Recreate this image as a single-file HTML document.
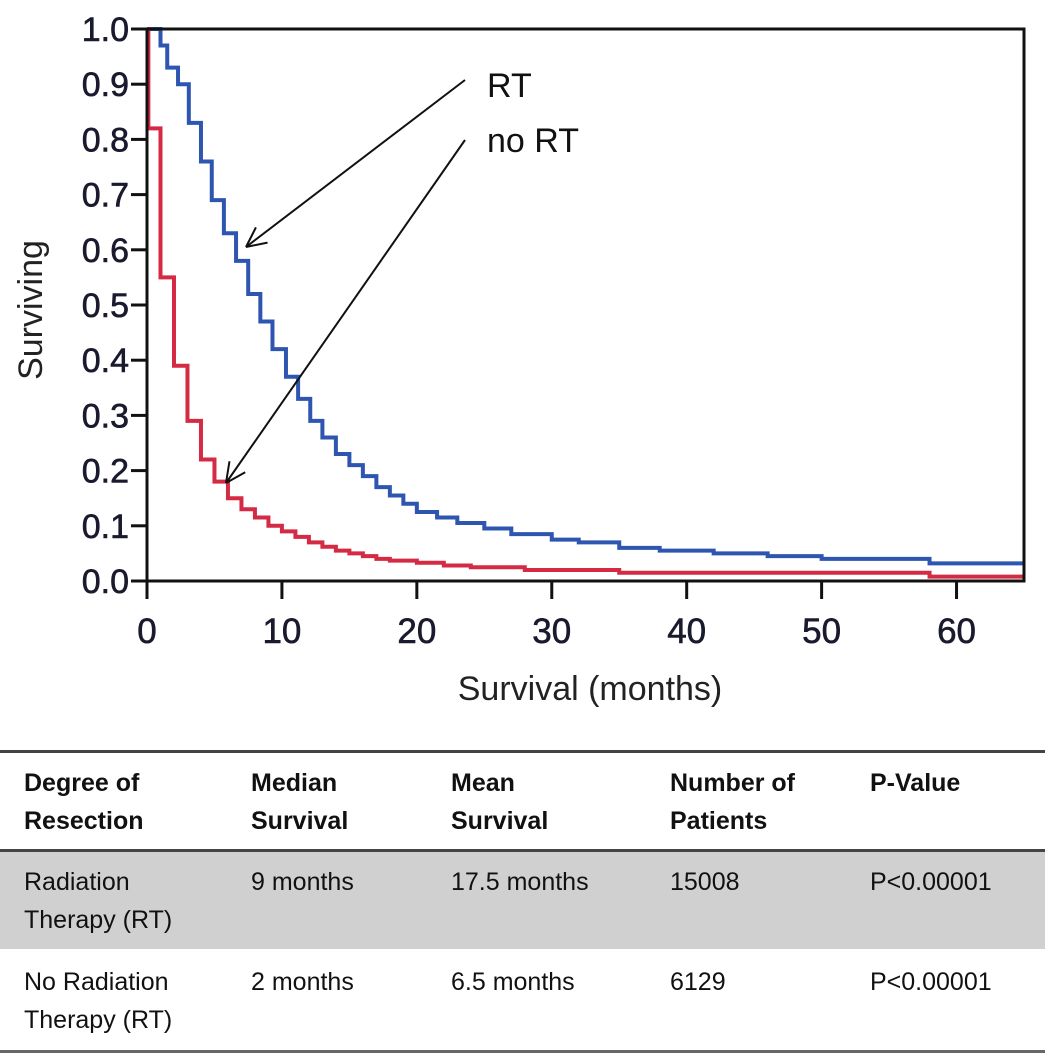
<!DOCTYPE html>
<html><head><meta charset="utf-8"><style>
body{margin:0;background:#fff;width:1063px;height:1056px;overflow:hidden;position:relative;font-family:"Liberation Sans",sans-serif}
.tb{position:absolute;font-family:"Liberation Sans Narrow","Liberation Sans",sans-serif;font-size:25px;line-height:38px;color:#111}
.h{font-weight:bold}
.ln{position:absolute;left:0;width:1045px;height:3px;background:#444}
</style></head><body>
<svg width="1063" height="740" style="position:absolute;left:0;top:0">
<g id="g"></g>
</svg>
<div style="position:absolute;left:0;top:852px;width:1045px;height:97px;background:#d0d0d0"></div>
<div class="ln" style="top:750px"></div>
<div class="ln" style="top:849px"></div>
<div class="ln" style="top:1050px;background:#666"></div>
<div class="tb h" style="left:24px;top:764px">Degree of<br>Resection</div>
<div class="tb h" style="left:251px;top:764px">Median<br>Survival</div>
<div class="tb h" style="left:451px;top:764px">Mean<br>Survival</div>
<div class="tb h" style="left:670px;top:764px">Number of<br>Patients</div>
<div class="tb h" style="left:870px;top:764px">P-Value</div>
<div class="tb" style="left:24px;top:863px">Radiation<br>Therapy (RT)</div>
<div class="tb" style="left:251px;top:863px">9 months</div>
<div class="tb" style="left:451px;top:863px">17.5 months</div>
<div class="tb" style="left:670px;top:863px">15008</div>
<div class="tb" style="left:870px;top:863px">P&lt;0.00001</div>
<div class="tb" style="left:24px;top:963px">No Radiation<br>Therapy (RT)</div>
<div class="tb" style="left:251px;top:963px">2 months</div>
<div class="tb" style="left:451px;top:963px">6.5 months</div>
<div class="tb" style="left:670px;top:963px">6129</div>
<div class="tb" style="left:870px;top:963px">P&lt;0.00001</div>
<script>
const xTicks=[0,10,20,30,40,50,60];
const yTicks=[0,0.1,0.2,0.3,0.4,0.5,0.6,0.7,0.8,0.9,1.0];
const rtTimes=[0,1,1.5,2.3,3.1,4,4.8,5.7,6.6,7.5,8.4,9.3,10.3,11.2,12.1,13,14,15,16,17,18,19,20,21.5,23,25,27,30,32,35,38,42,46,50,58,65];
const rtVals=[1.0,0.97,0.93,0.90,0.83,0.76,0.69,0.63,0.58,0.52,0.47,0.42,0.37,0.33,0.29,0.26,0.23,0.21,0.19,0.17,0.155,0.14,0.125,0.115,0.105,0.095,0.085,0.075,0.07,0.06,0.055,0.05,0.045,0.04,0.032,0.032];
const nortTimes=[0,0.1,1,2,3,4,5,6,7,8,9,10,11,12,13,14,15,16,17,18,20,22,24,28,35,58,65];
const nortVals=[1.0,0.82,0.55,0.39,0.29,0.22,0.18,0.15,0.13,0.115,0.10,0.09,0.08,0.07,0.062,0.055,0.05,0.045,0.04,0.037,0.033,0.028,0.025,0.02,0.015,0.008,0.008];
const X0=147,X1=1024,Y0=581,Y1=29,XMAX=65;
const sx=v=>X0+(X1-X0)*v/XMAX, sy=v=>Y0-(Y0-Y1)*v;
const NS="http://www.w3.org/2000/svg",g=document.getElementById('g');
function mk(t,a,parent){const e=document.createElementNS(NS,t);for(const k in a)e.setAttribute(k,a[k]);(parent||g).appendChild(e);return e;}
function stepPath(ts,vs){let d=`M${sx(ts[0])},${sy(vs[0])}`;for(let i=1;i<ts.length;i++){d+=`H${sx(ts[i])}V${sy(vs[i])}`;}return d;}
let p=mk('path',{d:stepPath(rtTimes,rtVals),fill:'none',stroke:'#2e56b0','stroke-width':4});


p=mk('path',{d:stepPath(nortTimes,nortVals),fill:'none',stroke:'#d42a44','stroke-width':4});


let f=mk('rect',{x:X0,y:Y1,width:X1-X0,height:Y0-Y1,fill:'none',stroke:'#111','stroke-width':3});


xTicks.forEach(v=>{
 let l=mk('line',{x1:sx(v),x2:sx(v),y1:Y0,y2:Y0+18,stroke:'#111','stroke-width':3});
 
 
 let t=mk('text',{x:sx(v),y:Y0+62,'text-anchor':'middle','font-size':35,fill:'#1a1a2e','stroke':'#1a1a2e','stroke-width':0.6});t.textContent=v;
 
 
});
yTicks.forEach(v=>{
 let l=mk('line',{x1:X0-16,x2:X0,y1:sy(v),y2:sy(v),stroke:'#111','stroke-width':3});
 
 
 let t=mk('text',{x:X0-18,y:sy(v)+12,'text-anchor':'end','font-size':34,fill:'#1a1a2e','stroke':'#1a1a2e','stroke-width':0.6});t.textContent=v.toFixed(1);
 
 
});
let t=mk('text',{x:590,y:700,'text-anchor':'middle','font-size':34,fill:'#222'});t.textContent='Survival (months)';


t=mk('text',{x:42,y:310,'text-anchor':'middle','font-size':34,fill:'#222',transform:'rotate(-90 42 310)'});t.textContent='Surviving';


function arrow(x1,y1,x2,y2,name){
 let l=mk('line',{x1,y1,x2,y2,stroke:'#111','stroke-width':2});
 
 
 const a=Math.atan2(y1-y2,x1-x2),L=22;
 [0.45,-0.45].forEach(d=>{mk('line',{x1:x2,y1:y2,x2:x2+L*Math.cos(a+d),y2:y2+L*Math.sin(a+d),stroke:'#111','stroke-width':2});});
}
arrow(465,80,246,247,'rt-arrow');
arrow(465,140,226,483,'no-rt-arrow');
t=mk('text',{x:487,y:97,'font-size':34,fill:'#111'});t.textContent='RT';


t=mk('text',{x:487,y:152,'font-size':34,fill:'#111'});t.textContent='no RT';


</script>
</body></html>
